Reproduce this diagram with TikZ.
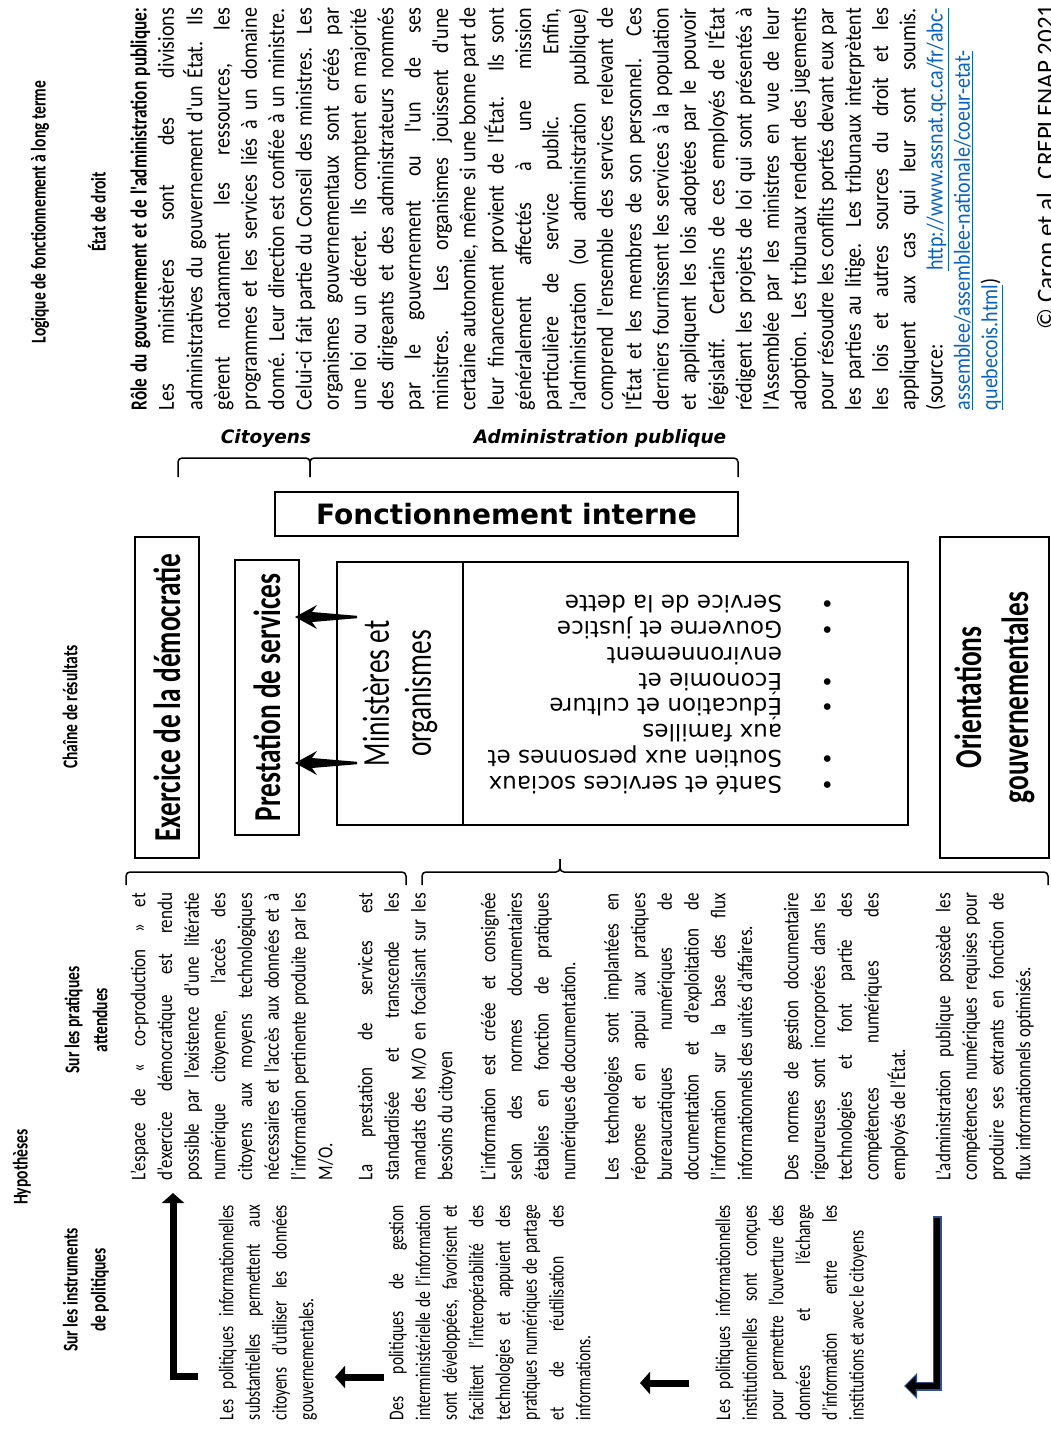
\documentclass[tikz,border=0pt]{standalone}
\usepackage{fontspec}
\usetikzlibrary{arrows.meta,calc}
\newfontfamily\fTop[FakeStretch=0.87]{Carlito}
\newfontfamily\fTopB[FakeStretch=0.75]{Carlito}
\newfontfamily\fMid[FakeStretch=0.81]{Carlito}
\newfontfamily\fLeft[FakeStretch=0.74]{Carlito}
\newfontfamily\fHead[FakeStretch=0.74]{Carlito}
\newfontfamily\fBig[FakeStretch=0.72]{Carlito}
\newfontfamily\fCopy{Carlito}
\newfontfamily\fVer{DejaVu Sans}
\definecolor{linkblue}{HTML}{0563C1}
\definecolor{arrowblue}{HTML}{2F528F}
\newcommand\jline[1]{\leavevmode\hbox to\linewidth{\spaceskip=0pt\xspaceskip=0pt\strut#1}}
\newcommand\lline[1]{\leavevmode\hbox to\linewidth{\spaceskip=0pt\xspaceskip=0pt\strut#1\hfil}}
\newcommand\lnk[1]{\textcolor{linkblue}{\underline{#1}}}
\newcommand\bul{\makebox[52pt][l]{•}}
\newcommand\nob{\hspace*{52pt}}
\begin{document}
\begin{tikzpicture}[x=1pt,y=-1pt,
  every node/.style={inner sep=0pt,outer sep=0pt},
  heading/.style={rotate=90,align=center,font=\fHead\bfseries\fontsize{21}{28}\selectfont},
  para/.style={rotate=90,align=left},
  toppara/.style={para,text width=402pt,font=\fTop\fontsize{23}{27.3}\selectfont},
  midpara/.style={para,text width=287pt,font=\fMid\fontsize{21}{26.7}\selectfont},
  leftpara/.style={para,text width=215pt,font=\fLeft\fontsize{21}{26.7}\selectfont},
  box/.style={draw,line width=1.8pt},
  bigbox/.style={box,rotate=90,align=center,font=\fBig\bfseries\fontsize{38}{47}\selectfont},
  bracelabel/.style={font=\fVer\bfseries\itshape\fontsize{18.5}{22}\selectfont},
  brace/.style={line width=1.5pt,rounded corners=4pt},
  fat/.style={line width=7pt,-{Triangle[length=10pt,width=22pt]}},
  ]
\fill[white] (0,0) rectangle (1050,1433);
\useasboundingbox (0,0) rectangle (1050,1433);

% ---------- top-right block ----------
\node[heading] (logique) at (40,212) {Logique de fonctionnement à long terme};
\node[heading] (etat) at (97,212) {État de droit};
\node[toppara] (role) at (566.5,209) {%
\jline{{\fTopB\bfseries Rôle du gouvernement et de l'administration publique:}}\\
\jline{Les ministères sont des divisions}\\
\jline{administratives du gouvernement d'un État. Ils}\\
\jline{gèrent notamment les ressources, les}\\
\jline{programmes et les services liés à un domaine}\\
\jline{donné. Leur direction est confiée à un ministre.}\\
\jline{Celui-ci fait partie du Conseil des ministres. Les}\\
\jline{organismes gouvernementaux sont créés par}\\
\jline{une loi ou un décret. Ils comptent en majorité}\\
\jline{des dirigeants et des administrateurs nommés}\\
\jline{par le gouvernement ou l'un de ses}\\
\jline{ministres. Les organismes jouissent d'une}\\
\jline{certaine autonomie, même si une bonne part de}\\
\jline{leur financement provient de l'État. Ils sont}\\
\jline{généralement affectés à une mission}\\
\jline{particulière de service public. Enfin,}\\
\jline{l'administration (ou administration publique)}\\
\jline{comprend l'ensemble des services relevant de}\\
\jline{l'État et les membres de son personnel. Ces}\\
\jline{derniers fournissent les services à la population}\\
\jline{et appliquent les lois adoptées par le pouvoir}\\
\jline{législatif. Certains de ces employés de l'État}\\
\jline{rédigent les projets de loi qui sont présentés à}\\
\jline{l'Assemblée par les ministres en vue de leur}\\
\jline{adoption. Les tribunaux rendent des jugements}\\
\jline{pour résoudre les conflits portés devant eux par}\\
\jline{les parties au litige. Les tribunaux interprètent}\\
\jline{les lois et autres sources du droit et les}\\
\jline{appliquent aux cas qui leur sont soumis.}\\
\jline{(source: \lnk{http://www.assnat.qc.ca/fr/abc-}}\\
\lline{\lnk{assemblee/assemblee-nationale/coeur-etat-}}\\
\lline{\lnk{quebecois.html})}};
\node[rotate=90,anchor=base west,font=\fCopy\fontsize{25}{30}\selectfont] (copy) at (1054,329) {© Caron et al. CREPLENAP 2021};

% ---------- headings ----------
\node[heading] (chaine) at (70,707) {Chaîne de résultats};
\node[heading] (hyp) at (22,1167) {Hypothèses};
\node[heading] (surinst) at (86,1290) {Sur les instruments\\de politiques};
\node[heading] (surprat) at (86,1020) {Sur les pratiques\\attendues};

% ---------- upper braces ----------
\node[bracelabel] (cit) at (266,438) {Citoyens};
\node[bracelabel] (adm) at (600,438) {Administration publique};
\draw[brace] (178,477) -- (178,458) -- (310,458) -- (310,477);
\draw[brace] (310,477) -- (310,458) -- (738,458) -- (738,477);

% ---------- boxes ----------
\node[box,minimum width=463pt,minimum height=44pt,font=\fVer\bfseries\fontsize{28}{32}\selectfont] (fonc) at (506.5,514) {Fonctionnement interne};
\node[bigbox,minimum width=321pt,minimum height=64pt] (demo) at (167,697.5) {Exercice de la démocratie};
\node[bigbox,minimum width=275pt,minimum height=64pt] (prest) at (267,697.5) {Prestation de services};
\node[box,rotate=90,minimum width=263pt,minimum height=126pt,align=center,font=\fBig\fontsize{38}{42}\selectfont] (mini) at (400,693.5) {Ministères et\\organismes};
\node[box,minimum width=445pt,minimum height=263pt] (cell) at (685.5,693.5) {};
\node[bigbox,minimum width=321pt,minimum height=109pt] (orient) at (994.5,697.5) {Orientations\\gouvernementales};
\node[rotate=180,anchor=north west,align=left,font=\fVer\fontsize{23}{25.9}\selectfont] (items) at (834,795) {%
\bul Santé et services sociaux\\
\bul Soutien aux personnes et\\
\nob aux familles\\
\bul Éducation et culture\\
\bul Économie et\\
\nob environnement\\
\bul Gouverne et justice\\
\bul Service de la dette};

% arrows ministères -> prestation
\coordinate (a1s) at (357,617);
\coordinate (a2s) at (357,763);
\coordinate (a1t) at ($(prest.south)+(-4,-80.5)$);
\coordinate (a2t) at ($(prest.south)+(-4,65.5)$);
\foreach \t/\s in {a1t/a1s,a2t/a2s}{
  \fill (\t) -- ($(\t)+(22,-12)$) -- ($(\t)+(17,-5)$) -- ($(\s)+(0,-1.2)$) -- ($(\s)+(0,1.2)$) -- ($(\t)+(17,5)$) -- ($(\t)+(22,12)$) -- cycle;
}

% ---------- lower braces ----------
\draw[brace] (126,885) -- (126,872) -- (406,872) -- (406,885);
\draw[brace] (422,885) -- (422,872) -- (560,872) -- (560,859);
\draw[brace] (560,859) -- (560,872) -- (1048,872) -- (1048,885);

% ---------- middle column ----------
\node[midpara] (p1) at (233.5,1036.5) {%
\jline{L’espace de « co-production » et}\\
\jline{d’exercice démocratique est rendu}\\
\jline{possible par l’existence d’une litératie}\\
\jline{numérique citoyenne, l’accès des}\\
\jline{citoyens aux moyens technologiques}\\
\jline{nécessaires et l’accès aux données et à}\\
\jline{l’information pertinente produite par les}\\
\lline{M/O.}};
\node[midpara] (p2) at (407,1036.5) {%
\jline{La prestation de services est}\\
\jline{standardisée et transcende les}\\
\jline{mandats des M/O en focalisant sur les}\\
\lline{besoins du citoyen}};
\node[midpara] (p3) at (530,1036.5) {%
\jline{L’information est créée et consignée}\\
\jline{selon des normes documentaires}\\
\jline{établies en fonction de pratiques}\\
\lline{numériques de documentation.}};
\node[midpara] (p4) at (680,1036.5) {%
\jline{Les technologies sont implantées en}\\
\jline{réponse et en appui aux pratiques}\\
\jline{bureaucratiques numériques de}\\
\jline{documentation et d’exploitation de}\\
\jline{l’information sur la base des flux}\\
\lline{informationnels des unités d’affaires.}};
\node[midpara] (p5) at (846.5,1036.5) {%
\jline{Des normes de gestion documentaire}\\
\jline{rigoureuses sont incorporées dans les}\\
\jline{technologies et font partie des}\\
\jline{compétences numériques des}\\
\lline{employés de l’État.}};
\node[midpara] (p6) at (985,1036.5) {%
\jline{L’administration publique possède les}\\
\jline{compétences numériques requises pour}\\
\jline{produire ses extrants en fonction de}\\
\lline{flux informationnels optimisés.}};

% ---------- left column ----------
\node[leftpara] (la) at (268,1312.5) {%
\jline{Les politiques informationnelles}\\
\jline{substantielles permettent aux}\\
\jline{citoyens d’utiliser les données}\\
\lline{gouvernementales.}};
\node[leftpara] (lb) at (491.5,1312.5) {%
\jline{Des politiques de gestion}\\
\jline{interministérielle de l’information}\\
\jline{sont développées, favorisent et}\\
\jline{facilitent l’interopérabilité des}\\
\jline{technologies et appuient des}\\
\jline{pratiques numériques de partage}\\
\jline{et de réutilisation des}\\
\lline{informations.}};
\node[leftpara] (lc) at (791.5,1312.5) {%
\jline{Les politiques informationnelles}\\
\jline{institutionnelles sont conçues}\\
\jline{pour permettre l’ouverture des}\\
\jline{données et l’échange}\\
\jline{d’information entre les}\\
\lline{institutions et avec le citoyens}};

% ---------- left arrows ----------
\coordinate (l1s) at (198,1376);
\coordinate (l1c) at (173,1376);
\coordinate (l1e) at (173,1193);
\draw[fat] (l1s) -- (l1c) -- (l1e);
\coordinate (l2s) at (384,1377);
\coordinate (l2e) at (335,1377);
\draw[fat] (l2s) -- (l2e);
\coordinate (l3s) at (689,1383);
\coordinate (l3e) at (640,1383);
\draw[fat] (l3s) -- (l3e);
\coordinate (l4s) at (937,1216);
\coordinate (l4c) at (937,1386);
\coordinate (l4e) at (904,1386);
\draw[line width=9pt,arrowblue,-{Triangle[length=13pt,width=25pt]}] (l4s) -- (l4c) -- (l4e);
\draw[line width=6pt,black,shorten >=1.5pt,-{Triangle[length=10pt,width=19pt]}] ($(l4s)+(0,1.5)$) -- (l4c) -- (l4e);
\end{tikzpicture}
\end{document}
